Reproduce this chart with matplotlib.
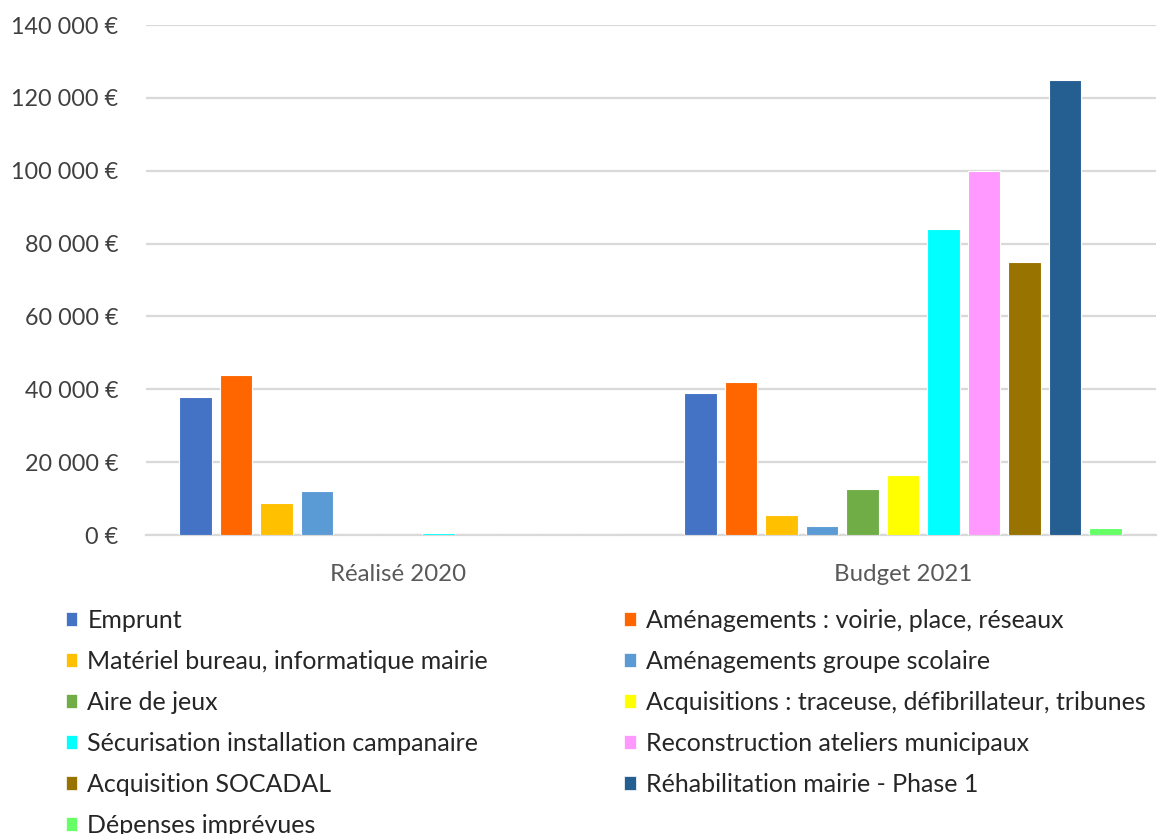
import matplotlib
matplotlib.use("Agg")
import matplotlib.pyplot as plt
import numpy as np
from matplotlib.patches import Patch

categories = ["Réalisé 2020", "Budget 2021"]
series_names = [
    "Emprunt",
    "Aménagements : voirie, place, réseaux",
    "Matériel bureau, informatique mairie",
    "Aménagements groupe scolaire",
    "Aire de jeux",
    "Acquisitions : traceuse, défibrillateur, tribunes",
    "Sécurisation installation campanaire",
    "Reconstruction ateliers municipaux",
    "Acquisition SOCADAL",
    "Réhabilitation mairie - Phase 1",
    "Dépenses imprévues",
]
realise_2020 = [38000, 44000, 8800, 12200, 0, 0, 600, 0, 0, 0, 0]
budget_2021 = [39000, 42000, 5400, 2500, 12500, 16500, 84000, 100000, 75000, 125000, 2000]
colors = ["#4472C4", "#FF6600", "#FFC000", "#5B9BD5", "#70AD47", "#FFFF00",
          "#00FFFF", "#FF99FF", "#997300", "#255E91", "#66FF66"]
yticks = [0, 20000, 40000, 60000, 80000, 100000, 120000, 140000]

plt.rcParams['font.family'] = ['Lato', 'DejaVu Sans']

fig = plt.figure(figsize=(11.61, 8.34), dpi=100)
ax = fig.add_axes([145.5/1161, (834-535)/834, (1155.5-145.5)/1161, (535-25)/834])

n = len(series_names)
x = np.arange(len(categories))
step = 0.0802
width = 0.0634
values = np.array([realise_2020, budget_2021])
handles = []
for i in range(n):
    offs = (i - (n-1)/2) * step
    ax.bar(x + offs, values[:, i], width=width, color=colors[i],
           edgecolor="white", linewidth=0.8, zorder=3)
    handles.append(Patch(facecolor=colors[i], edgecolor="white", linewidth=0.5))

ax.set_xlim(-0.5, 1.5)
ax.set_ylim(0, 140000)
ax.set_yticks(yticks)
ax.set_yticklabels([("{:,}".format(v).replace(",", " ") + " €") for v in yticks])
ax.set_xticks(x)
ax.set_xticklabels(categories)
ax.yaxis.grid(True, color="#D9D9D9", linewidth=1.6, zorder=0)
ax.set_axisbelow(True)
for s in ["top", "right", "left"]:
    ax.spines[s].set_visible(False)
ax.spines["bottom"].set_color("#D9D9D9")
ax.spines["bottom"].set_linewidth(1.6)
ax.tick_params(axis="y", length=0, pad=19.5, labelsize=16.8, labelcolor="#404040")
ax.tick_params(axis="x", length=0, pad=21, labelsize=17.3, labelcolor="#595959")

order = [0, 2, 4, 6, 8, 10, 1, 3, 5, 7, 9]
leg = fig.legend([handles[i] for i in order], [series_names[i] for i in order],
                 ncol=2, loc="upper left", bbox_to_anchor=(66/1161, 1 - 609/834),
                 frameon=False, fontsize=18, handlelength=0.45, handleheight=0.45,
                 handletextpad=0.4, labelspacing=0.72, columnspacing=5.45,
                 borderaxespad=0, borderpad=0)
for t in leg.get_texts():
    t.set_color("#262626")

fig.savefig("out.png", dpi=100)
